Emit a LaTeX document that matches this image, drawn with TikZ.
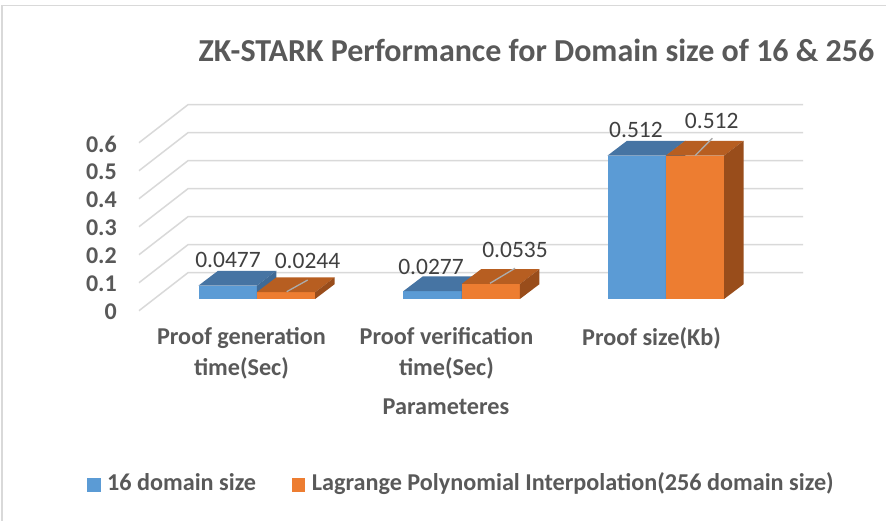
\documentclass[tikz,border=0pt]{standalone}
\usepackage{fontspec}
\setmainfont{Carlito}
\usetikzlibrary{positioning}
\definecolor{bluefront}{HTML}{5B9BD5}
\definecolor{bluetop}{HTML}{4674A3}
\definecolor{blueside}{HTML}{3F6A96}
\definecolor{orangefront}{HTML}{ED7D31}
\definecolor{orangetop}{HTML}{B75E21}
\definecolor{orangeside}{HTML}{994D1B}
\definecolor{axisgray}{HTML}{595959}
\definecolor{labelgray}{HTML}{404040}
\definecolor{gridgray}{HTML}{D9D9D9}
\tikzstyle{gridline} = [draw=gridgray, line width=1.5pt]
\tikzstyle{ylab} = [anchor=east, inner sep=0pt, text=axisgray, font=\fontsize{24}{28}\selectfont\bfseries]
\tikzstyle{val} = [inner sep=0pt, text=labelgray, font=\fontsize{23.5}{28}\selectfont]
\tikzstyle{cat} = [inner sep=0pt, align=center, text=axisgray, font=\fontsize{24.2}{31}\selectfont\bfseries]
\tikzstyle{leader} = [draw=gray!65, line width=1.3pt]
\tikzstyle{keybox} = [rectangle, minimum size=13.4pt, inner sep=0pt]
\tikzstyle{legtext} = [inner sep=0pt, text height=16pt, text depth=5pt, text=axisgray, font=\fontsize{24.2}{28}\selectfont\bfseries]

\begin{document}
\begin{tikzpicture}[x=1pt, y=-1pt]
		\useasboundingbox (0,0) rectangle (886,521);
		\fill[white] (0,0) rectangle (886,521);
		\draw[gridgray, line width=1.5pt] (2,521) -- (2,5.5) -- (886,5.5);
		\node (title) [text=axisgray, font=\fontsize{32}{36}\selectfont\bfseries] at (536.5,50) {ZK-STARK Performance for Domain size of 16 \& 256};
		% walls and value axis
		\foreach \k/\t in {0/0, 1/0.1, 2/0.2, 3/0.3, 4/0.4, 5/0.5, 6/0.6} {
			\draw[gridline] (139,310.7-28*\k) -- (188,272.7-28*\k) -- (803,272.7-28*\k);
			\node (y\k) [ylab] at (117,312-28*\k) {\t};
		}
		% bars: 16 domain size, then Lagrange
		\foreach \x/\hb/\ho in {198.5/13.4/6.8, 403.3/7.8/15.0, 607.5/143.4/143.4} {
			\fill[bluefront] (\x,299) rectangle ++(58.3,-\hb);
			\fill[bluetop] (\x,299-\hb) -- ++(58.3,0) -- ++(19.5,-14.8) -- ++(-58.3,0) -- cycle;
			\fill[blueside] (\x+58.3,299) -- ++(0,-\hb) -- ++(19.5,-14.8) -- ++(0,\hb) -- cycle;
			\fill[orangefront] (\x+58.3,299) rectangle ++(58.3,-\ho);
			\fill[orangetop] (\x+58.3,299-\ho) -- ++(58.3,0) -- ++(19.5,-14.8) -- ++(-58.3,0) -- cycle;
			\fill[orangeside] (\x+116.6,299) -- ++(0,-\ho) -- ++(19.5,-14.8) -- ++(0,\ho) -- cycle;
		}
		% data labels
		\node (vb1) [val] at (228,260) {0.0477};
		\node (vo1) [val] at (307.5,260.5) {0.0244};
		\node (vb2) [val] at (431,267) {0.0277};
		\node (vo2) [val] at (515,250) {0.0535};
		\node (vb3) [val] at (636,129.5) {0.512};
		\node (vo3) [val] at (711.7,120.5) {0.512};
		\coordinate (lo1a) at (286.7,291.7);
		\coordinate (lo1b) at (307.7,280);
		\coordinate (lo2a) at (490,283.3);
		\coordinate (lo2b) at (515,268.3);
		\coordinate (lo3a) at (695,155.7);
		\coordinate (lo3b) at (712.3,138.3);
		\draw[leader] (lo1a) -- (lo1b);
		\draw[leader] (lo2a) -- (lo2b);
		\draw[leader] (lo3a) -- (lo3b);
		% categories
		\node (cat1) [cat] at (241.5,353.5) {Proof generation\\time(Sec)};
		\node (cat2) [cat] at (446.5,353.5) {Proof verification\\time(Sec)};
		\node (cat3) [cat] at (651.5,338) {Proof size(Kb)};
		\node (xtitle) [cat] at (446,407) {Parameteres};
		% legend
		\node (key1) [keybox, fill=bluefront] at (94,485) {};
		\node (leg1) [legtext, right=6pt of key1] {16 domain size};
		\node (key2) [keybox, fill=orangefront, right=35.6pt of leg1] {};
		\node (leg2) [legtext, right=6pt of key2] {Lagrange Polynomial Interpolation(256 domain size)};
\end{tikzpicture}
\end{document}
